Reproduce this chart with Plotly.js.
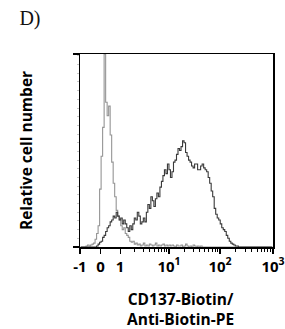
<!DOCTYPE html>
<html>
<head>
<meta charset="utf-8">
<script src="https://cdn.plot.ly/plotly-3.0.1.min.js"></script>
<style>html,body{margin:0;padding:0;background:#fff;}#chart{width:285px;height:329px;}</style>
</head>
<body>
<div id="chart"></div>
<script>
// Histogram bins: 128 channels of width 8 on a 0..1024 display (biexponential-like) scale
var binWidth = 8;

// Control (unstained / isotype) histogram, relative counts (%)
var controlCounts = [
  0,0,0,0,0.5,1,0.5,1,1.5,2,
  4,7,11,30,47,62,100,75,68,73,
  58,44,33,26,19,16,14,11,9,10,
  7,6,5,3,2.5,3,1.5,2,1,1.5,
  0.5,1,2,0.5,1,0.5,1.5,1,0.5,1,
  2,0.5,1,0.5,1,1.5,0.5,1,0.5,1,
  0.5,1,0.5,0,1,0.5,0.5,1,0,0.5,
  1.5,0.5,0,0.5,0,1,0.5,0,0.5,0,
  0.5,0,0,0,0,0,0,0,0,0,
  0,0,0,0,0,0,0,0,0,0,
  0,0,0,0,0,0,0,0,0,0,
  0,0,0,0,0,0,0,0,0,0,
  0,0,0,0,0,0,0,0
];

// CD137-Biotin / Anti-Biotin-PE stained histogram, relative counts (%)
var stainedCounts = [
  0,0,0,0,0,0,0,0,0,0,
  0,0.5,1.5,2.5,3,5,6,8,10,11,
  13,14,16,15,18,16,14,15,12,14,
  12,10,8,11,9,12,15,14,18,16,
  12,13,15,13,18,22,20,26,24,21,
  25,28,26,31,34,37,40,38,43,40,
  36,39,44,45,48,51,50,52,55,54,
  49,47,45,44,42,41,43,43,40,40,
  42,43,41,40,39,36,33,29,26,20,
  17,15,14,12,10,9,8,6,4.5,3,
  2,1.5,1,0.5,0.5,0,0,0,0,0,
  0,0,0,0,0,0,0,0,0,0,
  0,0,0,0,0,0,0,0
];

// Axis: decade anchor positions (display channels) and labels
var tickChannels = [0, 109, 213, 472, 743, 1024];
var tickLabels = ["-1", "0", "1", "10<sup>1</sup>", "10<sup>2</sup>", "10<sup>3</sup>"];
var decadeIdx = [2, 3, 4]; // 1->10, 10->100, 100->1000
var xTitleLines = ["CD137-Biotin/", "Anti-Biotin-PE"];
var yTitle = "Relative cell number";
var panelLabel = "D)";

var minorVals = [];
decadeIdx.forEach(function (d) {
  var a = tickChannels[d], b = tickChannels[d + 1];
  for (var k = 2; k <= 9; k++) minorVals.push(a + (b - a) * Math.log10(k));
});

var xBins = controlCounts.map(function (_, i) { return i * binWidth + binWidth / 2; });

var traces = [
  {
    x: xBins, y: controlCounts, type: 'scatter', mode: 'lines',
    line: {color: '#959595', width: 1.1, shape: 'hvh'}, name: 'Control', hoverinfo: 'skip'
  },
  {
    x: xBins, y: stainedCounts, type: 'scatter', mode: 'lines',
    line: {color: '#3a3a3a', width: 1.1, shape: 'hvh'}, name: 'CD137', hoverinfo: 'skip'
  }
];

var sans = 'Open Sans, sans-serif';

var layout = {
  width: 285, height: 329,
  margin: {l: 79.5, r: 12, t: 54, b: 82.3},
  paper_bgcolor: '#fff', plot_bgcolor: '#fff',
  showlegend: false,
  title: {
    text: panelLabel, xref: 'container', yref: 'container',
    x: 0.068, xanchor: 'left', y: 0.945, yanchor: 'middle',
    font: {family: 'Liberation Serif, serif', size: 20, color: '#111'}
  },
  xaxis: {
    range: [0, 1024], showgrid: false, zeroline: false,
    showline: true, linecolor: '#000', linewidth: 1.5, mirror: true,
    tickmode: 'array', tickvals: tickChannels, ticktext: tickLabels,
    ticks: 'outside', ticklen: 5, tickwidth: 1.3, tickcolor: '#000',
    tickfont: {family: sans, size: 15, color: '#000', weight: 'bold'},
    minor: {tickmode: 'array', tickvals: minorVals, ticks: 'outside', ticklen: 3, tickwidth: 1, tickcolor: '#000', showgrid: false},
    fixedrange: true
  },
  yaxis: {
    range: [0, 100], showgrid: false, zeroline: false,
    showline: true, linecolor: '#000', linewidth: 1.5, mirror: true,
    tickmode: 'array', tickvals: [0, 100], showticklabels: false,
    ticks: 'outside', ticklen: 6, tickwidth: 1.5, tickcolor: '#000',
    minor: {tickmode: 'linear', tick0: 0, dtick: 4.5, ticks: 'outside', ticklen: 2, tickwidth: 1, tickcolor: '#c8c8c8', showgrid: false},
    title: {
      text: '<b>' + yTitle + '</b>', standoff: 36,
      font: {family: sans, size: 15.5, color: '#000'}
    },
    fixedrange: true
  },
  annotations: [
    {text: '<b>' + xTitleLines.join('<br>') + '</b>', xref: 'paper', yref: 'paper', x: 0.52, y: -0.3207,
     xanchor: 'center', yanchor: 'middle', showarrow: false, font: {family: sans, size: 15.5, color: '#000'}}
  ]
};

Plotly.newPlot('chart', traces, layout, {staticPlot: true, displayModeBar: false});
</script>
</body>
</html>
